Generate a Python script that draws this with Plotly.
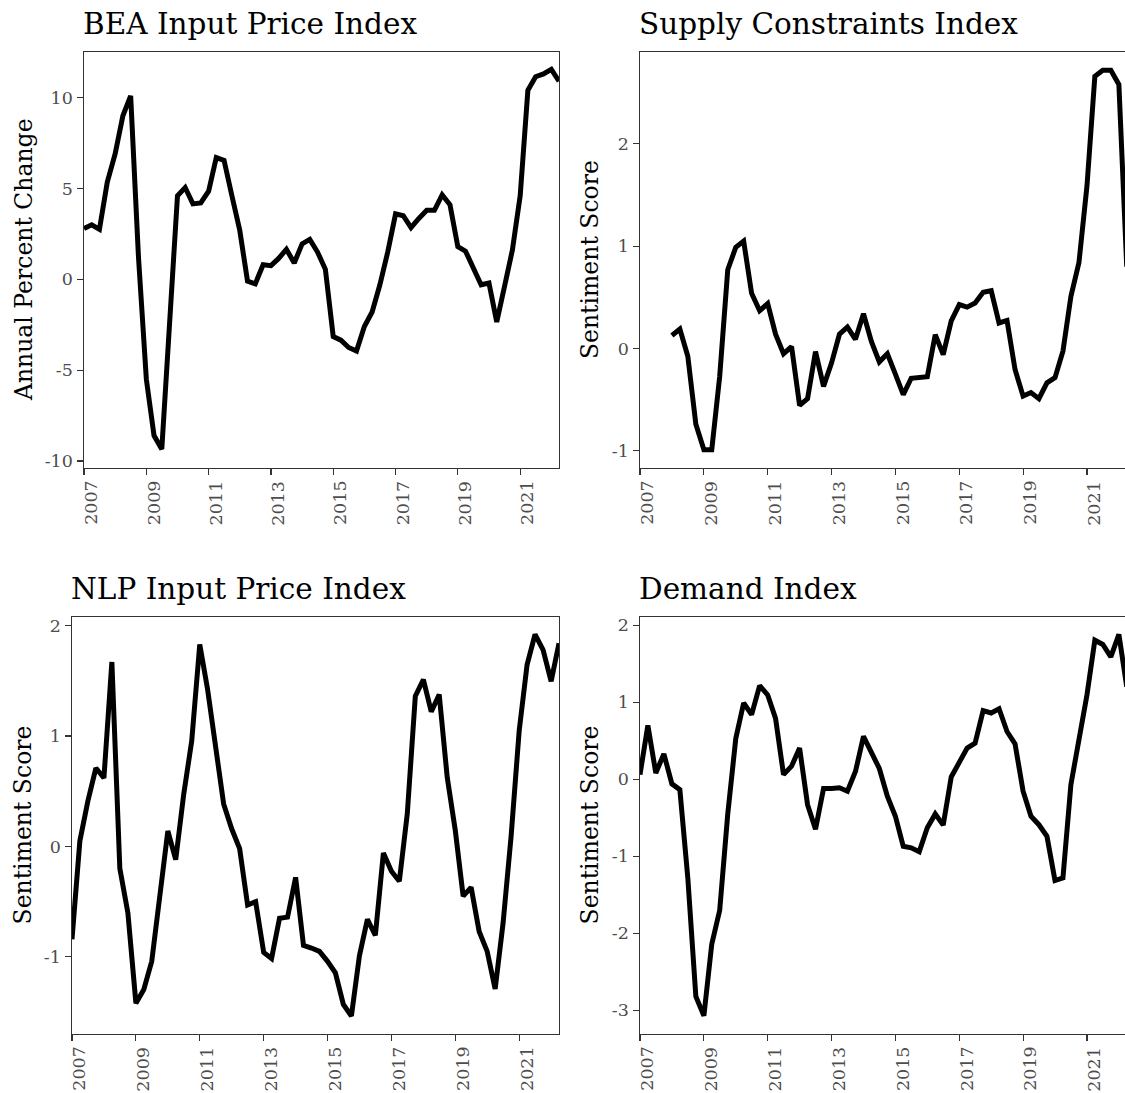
import pandas as pd
import plotly.graph_objects as go

# ---------------- data ----------------
quarters = pd.date_range("2007-01-01", periods=62, freq="QS").strftime("%Y-%m-%d").tolist()

bea_input_price = [2.8, 3.0, 2.75, 5.35, 6.9, 9.0, 10.1, 1.2, -5.5, -8.6,
                   -9.35, -1.8, 4.6, 5.05, 4.15, 4.2, 4.85, 6.7, 6.55, 4.6,
                   2.7, -0.1, -0.25, 0.8, 0.75, 1.15, 1.65, 0.9, 1.95, 2.2,
                   1.5, 0.55, -3.15, -3.35, -3.75, -3.95, -2.6, -1.8, -0.3, 1.5,
                   3.6, 3.5, 2.85, 3.35, 3.8, 3.8, 4.65, 4.1, 1.8, 1.55,
                   0.55, -0.3, -0.2, -2.35, -0.4, 1.6, 4.6, 10.4, 11.15, 11.3,
                   11.55, 10.9]

supply_constraints = [None, None, None, None, 0.127, 0.19, -0.075, -0.74, -0.99, -0.99,
                      -0.27, 0.77, 0.99, 1.05, 0.54, 0.37, 0.44, 0.14, -0.05, 0.02,
                      -0.555, -0.49, -0.03, -0.37, -0.14, 0.14, 0.21, 0.09, 0.34, 0.07,
                      -0.13, -0.05, -0.25, -0.45, -0.29, -0.285, -0.275, 0.136, -0.06, 0.27,
                      0.43, 0.405, 0.445, 0.55, 0.565, 0.25, 0.275, -0.205, -0.465, -0.43,
                      -0.49, -0.335, -0.285, -0.025, 0.51, 0.84, 1.59, 2.66, 2.72, 2.72,
                      2.58, 0.8]

nlp_input_price = [-0.84, 0.05, 0.41, 0.71, 0.62, 1.67, -0.2, -0.6, -1.42, -1.295,
                   -1.04, -0.41, 0.14, -0.12, 0.47, 0.955, 1.83, 1.42, 0.895, 0.385,
                   0.16, -0.02, -0.53, -0.5, -0.96, -1.015, -0.65, -0.64, -0.28, -0.895,
                   -0.92, -0.95, -1.04, -1.145, -1.43, -1.535, -0.99, -0.66, -0.805, -0.06,
                   -0.225, -0.315, 0.295, 1.36, 1.51, 1.22, 1.375, 0.625, 0.145, -0.45,
                   -0.37, -0.77, -0.95, -1.29, -0.69, 0.1, 1.05, 1.645, 1.92, 1.78,
                   1.495, 1.84]

demand = [0.06, 0.70, 0.08, 0.33, -0.06, -0.135, -1.28, -2.82, -3.07, -2.14,
          -1.70, -0.45, 0.53, 0.99, 0.84, 1.215, 1.095, 0.79, 0.06, 0.17,
          0.405, -0.33, -0.65, -0.12, -0.12, -0.11, -0.155, 0.10, 0.556, 0.34,
          0.14, -0.22, -0.48, -0.87, -0.89, -0.94, -0.63, -0.45, -0.595, 0.03,
          0.21, 0.405, 0.47, 0.89, 0.86, 0.915, 0.62, 0.46, -0.155, -0.48,
          -0.59, -0.74, -1.315, -1.28, -0.07, 0.49, 1.095, 1.805, 1.75, 1.59,
          1.88, 1.2]

titles = ["BEA Input Price Index", "Supply Constraints Index",
          "NLP Input Price Index", "Demand Index"]
y_titles = ["Annual Percent Change", "Sentiment Score", "Sentiment Score", "Sentiment Score"]

x_tick_years = ["2007", "2009", "2011", "2013", "2015", "2017", "2019", "2021"]
bea_ticks = [-10, -5, 0, 5, 10]
supply_ticks = [-1, 0, 1, 2]
nlp_ticks = [-1, 0, 1, 2]
demand_ticks = [-3, -2, -1, 0, 1, 2]

# ---------------- layout geometry ----------------
W, H = 1125, 1093
FONT = "DejaVu Serif"
AXIS_COL = "#333333"
TICK_COL = "#4D4D4D"
TICK_SIZE = 17.5


def px_x(p):
    return p / W


def px_y(p):
    return 1 - p / H


panels = [
    dict(y=bea_input_price, ticks=bea_ticks, xd=(84, 559), yd=(51, 469),
         yr=(-10.4, 12.52), xend="2022-04-01", right=True, title_x=84, ytitle_x=24),
    dict(y=supply_constraints, ticks=supply_ticks, xd=(640, 1125), yd=(51, 469),
         yr=(-1.17, 2.90), xend="2022-03-12", right=False, title_x=640, ytitle_x=590),
    dict(y=nlp_input_price, ticks=nlp_ticks, xd=(72, 559), yd=(618, 1037),
         yr=(-1.70, 2.08), xend="2022-04-01", right=True, title_x=72, ytitle_x=23),
    dict(y=demand, ticks=demand_ticks, xd=(640, 1125), yd=(618, 1037),
         yr=(-3.31, 2.11), xend="2022-03-12", right=False, title_x=640, ytitle_x=590),
]

fig = go.Figure()
annotations = []
for i, p in enumerate(panels):
    n = "" if i == 0 else str(i + 1)
    fig.add_trace(go.Scatter(
        x=quarters, y=p["y"], mode="lines",
        line=dict(color="black", width=5),
        xaxis="x" + n, yaxis="y" + n, showlegend=False,
        connectgaps=False, hoverinfo="skip",
    ))
    xa = dict(
        domain=[px_x(p["xd"][0]), px_x(p["xd"][1])],
        anchor="y" + n, type="date",
        range=["2007-01-01", p["xend"]],
        tickmode="array", tickvals=[y + "-01-01" for y in x_tick_years],
        showticklabels=False,
        showline=True, linecolor=AXIS_COL, linewidth=1.1, mirror=True,
        ticks="outside", ticklen=5.5, tickwidth=1.1, tickcolor=AXIS_COL,
        showgrid=False, zeroline=False, fixedrange=True,
    )
    ya = dict(
        domain=[px_y(p["yd"][1]), px_y(p["yd"][0])],
        anchor="x" + n, range=list(p["yr"]),
        tickmode="array", tickvals=p["ticks"],
        ticktext=[str(t) for t in p["ticks"]],
        showline=True, linecolor=AXIS_COL, linewidth=1.1, mirror=p["right"],
        ticks="outside", ticklen=5.5, tickwidth=1.1, tickcolor=AXIS_COL,
        ticklabelstandoff=1,
        tickfont=dict(family=FONT, size=TICK_SIZE, color=TICK_COL),
        showgrid=False, zeroline=False, fixedrange=True,
    )
    fig.layout["xaxis" + n] = xa
    fig.layout["yaxis" + n] = ya

    # rotated x tick labels (slightly right of the tick, as in the original)
    for yr in x_tick_years:
        annotations.append(dict(
            text=yr, xref="x" + n, yref="y" + n + " domain",
            x=yr + "-01-01", y=0, xanchor="center", yanchor="top",
            xshift=7, yshift=-10, textangle=-90, showarrow=False,
            font=dict(family=FONT, size=TICK_SIZE, color=TICK_COL),
        ))

    # panel title
    annotations.append(dict(
        text=titles[i], xref="paper", yref="paper",
        x=px_x(p["title_x"]), y=px_y(p["yd"][0] - 28),
        xanchor="left", yanchor="middle", xshift=-3, showarrow=False,
        font=dict(family=FONT, size=29.5, color="black"),
    ))
    # y-axis title
    annotations.append(dict(
        text=y_titles[i], xref="paper", yref="paper",
        x=px_x(p["ytitle_x"]), y=px_y((p["yd"][0] + p["yd"][1]) / 2),
        xanchor="center", yanchor="middle", textangle=-90, showarrow=False,
        font=dict(family=FONT, size=23.5, color="black"),
    ))

fig.update_layout(
    width=W, height=H, autosize=False,
    margin=dict(l=0, r=0, t=0, b=0),
    paper_bgcolor="white", plot_bgcolor="white",
    annotations=annotations,
    font=dict(family=FONT),
)

fig.write_html(
    "out.html",
    config={"displayModeBar": False, "staticPlot": True},
    post_script="document.body.style.margin='0px';document.body.style.overflow='hidden';",
)
